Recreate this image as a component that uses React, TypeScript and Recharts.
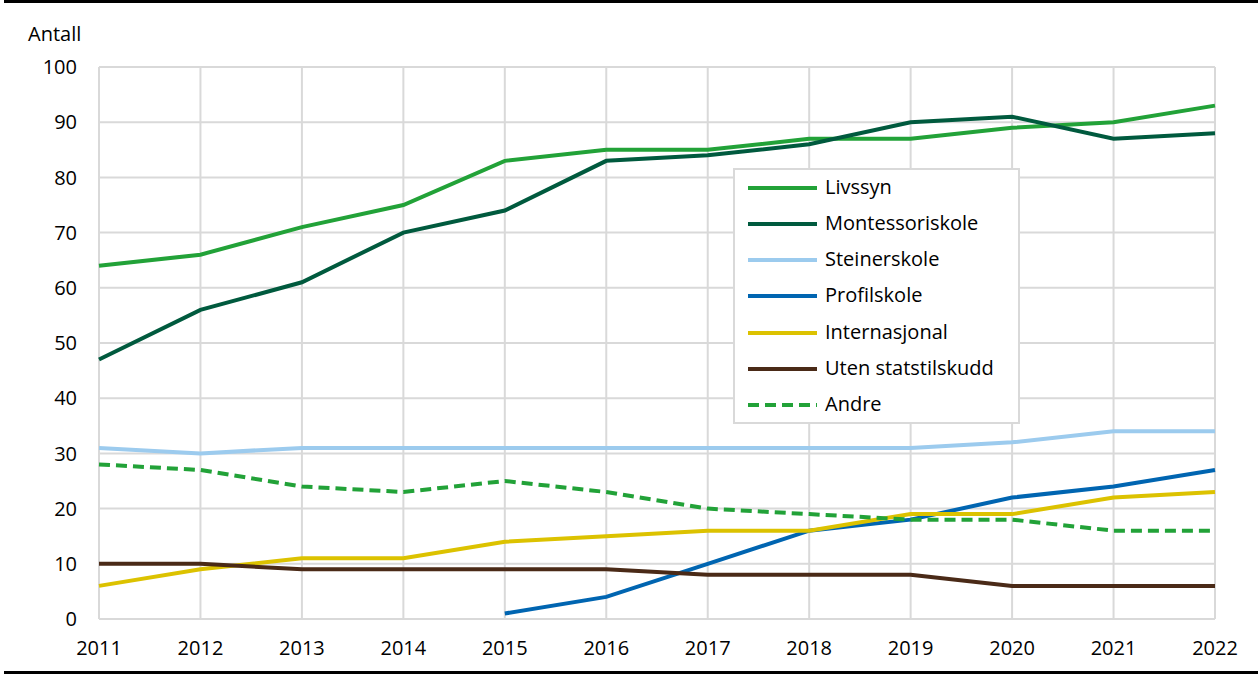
import { LineChart, Line, XAxis, YAxis, CartesianGrid } from "recharts";

const years = [2011, 2012, 2013, 2014, 2015, 2016, 2017, 2018, 2019, 2020, 2021, 2022];
const livssyn = [64, 66, 71, 75, 83, 85, 85, 87, 87, 89, 90, 93];
const montessori = [47, 56, 61, 70, 74, 83, 84, 86, 90, 91, 87, 88];
const steiner = [31, 30, 31, 31, 31, 31, 31, 31, 31, 32, 34, 34];
const profil = [null, null, null, null, 1, 4, 10, 16, 18, 22, 24, 27];
const internasjonal = [6, 9, 11, 11, 14, 15, 16, 16, 19, 19, 22, 23];
const utenTilskudd = [10, 10, 9, 9, 9, 9, 8, 8, 8, 6, 6, 6];
const andre = [28, 27, 24, 23, 25, 23, 20, 19, 18, 18, 16, 16];
const yTicks = [0, 10, 20, 30, 40, 50, 60, 70, 80, 90, 100];

const FONT = "'Open Sans', 'Noto Sans', sans-serif";

const series = [
  { key: "livssyn", name: "Livssyn", color: "#22a238", dash: undefined },
  { key: "montessori", name: "Montessoriskole", color: "#005a3e", dash: undefined },
  { key: "steiner", name: "Steinerskole", color: "#9ccbee", dash: undefined },
  { key: "profil", name: "Profilskole", color: "#0065b1", dash: undefined },
  { key: "internasjonal", name: "Internasjonal", color: "#dcc200", dash: undefined },
  { key: "uten", name: "Uten statstilskudd", color: "#4a2a17", dash: undefined },
  { key: "andre", name: "Andre", color: "#22a238", dash: "11 6" },
];

const data = years.map((year, i) => ({
  year,
  livssyn: livssyn[i],
  montessori: montessori[i],
  steiner: steiner[i],
  profil: profil[i],
  internasjonal: internasjonal[i],
  uten: utenTilskudd[i],
  andre: andre[i],
}));

// boxed legend, placed over the plot like the original
function LegendBox() {
  return (
    <div
      style={{
        position: "absolute",
        left: 733,
        top: 168,
        width: 283,
        height: 252,
        border: "2px solid #d9d9d9",
        background: "#fff",
        fontFamily: FONT,
        fontSize: 20,
        color: "#000",
      }}
    >
      {series.map((s, i) => (
        <div key={s.key} style={{ position: "absolute", left: 0, top: i * 36.3 - 1.5, height: 36, display: "flex", alignItems: "center" }}>
          <svg width={90} height={8} style={{ display: "block", marginTop: 2 }}>
            <line x1={13} x2={82} y1={4} y2={4} stroke={s.color} strokeWidth={4} strokeDasharray={s.dash} />
          </svg>
          <span style={{ whiteSpace: "nowrap", lineHeight: "36px" }}>{s.name}</span>
        </div>
      ))}
    </div>
  );
}

export default function App() {
  return (
    <div style={{ position: "absolute", left: 0, top: 0, width: 1258, height: 675, background: "#fff", fontFamily: FONT }}>
      <div style={{ position: "absolute", left: 4, top: 0, width: 1254, height: 3, background: "#000" }} />
      <div style={{ position: "absolute", left: 4, top: 671, width: 1254, height: 3, background: "#000" }} />
      <div style={{ position: "absolute", left: 28, top: 20, fontSize: 20, color: "#000" }}>Antall</div>
      <LineChart width={1258} height={675} data={data} margin={{ top: 67, right: 43, bottom: 26, left: 19 }}>
        <CartesianGrid stroke="#d9d9d9" strokeWidth={2} />
        <XAxis
          dataKey="year"
          type="number"
          domain={[2011, 2022]}
          ticks={years}
          height={30}
          axisLine={false}
          tickLine={false}
          tickSize={0}
          tickMargin={22}
          tick={{ fontSize: 20, fill: "#000", fontFamily: FONT }}
        />
        <YAxis
          domain={[0, 100]}
          ticks={yTicks}
          width={80}
          axisLine={false}
          tickLine={false}
          tickSize={0}
          tickMargin={22}
          tick={{ fontSize: 20, fill: "#000", fontFamily: FONT }}
        />
        {series.map((s) => (
          <Line
            key={s.key}
            dataKey={s.key}
            name={s.name}
            stroke={s.color}
            strokeWidth={4}
            strokeDasharray={s.dash}
            dot={false}
            activeDot={false}
            connectNulls={false}
            isAnimationActive={false}
          />
        ))}
      </LineChart>
      <LegendBox />
    </div>
  );
}
